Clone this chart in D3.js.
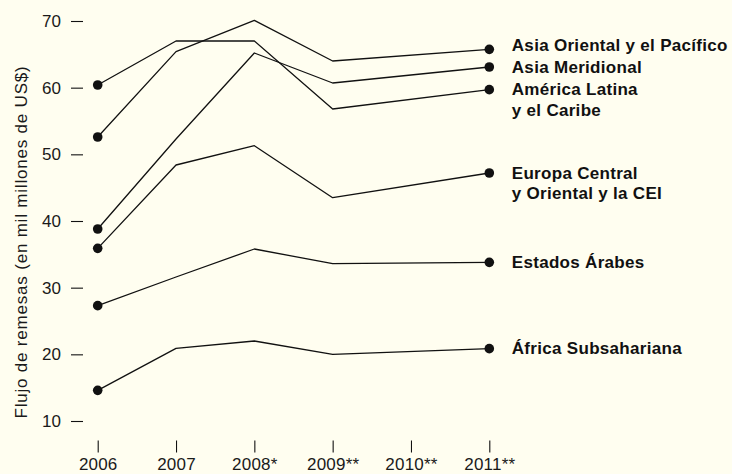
<!DOCTYPE html>
<html>
<head>
<meta charset="utf-8">
<script src="https://cdn.jsdelivr.net/npm/d3@7"></script>
<style>
  html, body { margin: 0; padding: 0; background: #fffef0; }
  svg { display: block; }
  text { font-family: "Liberation Sans", Arial, Helvetica, sans-serif; }
</style>
</head>
<body>
<svg id="chart" width="732" height="474"></svg>
<script>
// Remittance flows by region, in billions of US$
const years = [2006, 2007, 2008, 2009, 2011];
const tickYears = [2006, 2007, 2008, 2009, 2010, 2011];
const tickYearLabels = ["2006", "2007", "2008*", "2009**", "2010**", "2011**"];
const yTicks = [10, 20, 30, 40, 50, 60, 70];

const regionNames = [
  ["Asia Oriental y el Pacífico"],
  ["Asia Meridional"],
  ["América Latina", "y el Caribe"],
  ["Europa Central", "y Oriental y la CEI"],
  ["Estados Árabes"],
  ["África Subsahariana"]
];
const eastAsiaPacific = [52.6, 65.4, 70.1, 64.0, 65.75];
const southAsia       = [38.8, 52.3, 65.2, 60.7, 63.1];
const latinAmerica    = [60.4, 67.0, 67.0, 56.8, 59.7];
const centralEurope   = [35.9, 48.4, 51.3, 43.5, 47.2];
const arabStates      = [27.3, 31.6, 35.8, 33.6, 33.8];
const subSaharan      = [14.6, 20.9, 22.0, 20.0, 20.85];
const seriesValues = [eastAsiaPacific, southAsia, latinAmerica, centralEurope, arabStates, subSaharan];

const series = regionNames.map((name, i) => ({
  name,
  points: years.map((yr, j) => ({ year: yr, value: seriesValues[i][j] }))
}));

const svg = d3.select("#chart");
const ink = "#111";

const x = d3.scaleLinear().domain([2006, 2011]).range([97.7, 489.3]);
const y = d3.scaleLinear().domain([10, 70]).range([421, 21]);

// Y axis: detached tick marks with labels
const yAxis = d3.axisLeft(y).tickValues(yTicks).tickSize(12).tickPadding(10);
const gy = svg.append("g").attr("transform", "translate(83,0)").call(yAxis);
gy.select(".domain").remove();
gy.selectAll(".tick line").attr("stroke", ink).attr("stroke-width", 1.1);
gy.selectAll(".tick text")
  .attr("fill", "#1a1a1a")
  .style("font-size", "17px")
  .style("letter-spacing", "0.1px")
  .attr("x", -22);

// X axis: ticks hang below the plot
const xAxis = d3.axisBottom(x).tickValues(tickYears)
  .tickFormat((d, i) => tickYearLabels[i]).tickSize(12).tickPadding(8);
const gx = svg.append("g").attr("transform", "translate(0,440.5)").call(xAxis);
gx.select(".domain").remove();
gx.selectAll(".tick line").attr("stroke", ink).attr("stroke-width", 1.1);
gx.selectAll(".tick text")
  .attr("fill", "#1a1a1a")
  .style("font-size", "17px")
  .style("letter-spacing", "0.2px")
  .attr("y", 0).attr("dy", "29.5px");

// Y axis title
svg.append("text")
  .attr("transform", "translate(27,242) rotate(-90)")
  .attr("text-anchor", "middle")
  .attr("fill", "#1a1a1a")
  .style("font-size", "17px")
  .style("letter-spacing", "0.8px")
  .text("Flujo de remesas (en mil millones de US$)");

// Series lines
const line = d3.line().x(d => x(d.year)).y(d => y(d.value));
svg.append("g").selectAll("path").data(series).join("path")
  .attr("d", d => line(d.points))
  .attr("fill", "none")
  .attr("stroke", ink)
  .attr("stroke-width", 1.3)
  .attr("stroke-linejoin", "round");

// Start and end dots
const ends = series.flatMap(s => [s.points[0], s.points[s.points.length - 1]]);
svg.append("g").selectAll("circle").data(ends).join("circle")
  .attr("cx", d => x(d.year))
  .attr("cy", d => y(d.value))
  .attr("r", 4.8)
  .attr("fill", ink);

// Direct labels at the right end, nudged apart where they would collide
const labelX = x(2011) + 22.5;
const minGap = 22;
const labelPos = series.map(s => y(s.points[s.points.length - 1].value) + 5.5);
for (let i = labelPos.length - 2; i >= 0; i--) {
  if (labelPos[i + 1] - labelPos[i] < minGap) labelPos[i] = labelPos[i + 1] - minGap;
}
const labels = svg.append("g").selectAll("text").data(series).join("text")
  .attr("x", labelX)
  .attr("y", (d, i) => labelPos[i])
  .attr("fill", ink)
  .style("font-size", "17px")
  .style("font-weight", "bold")
  .style("letter-spacing", "0.3px");
labels.selectAll("tspan").data(d => d.name).join("tspan")
  .attr("x", labelX)
  .attr("dy", (d, i) => i === 0 ? 0 : 20.5)
  .text(d => d);
</script>
</body>
</html>
